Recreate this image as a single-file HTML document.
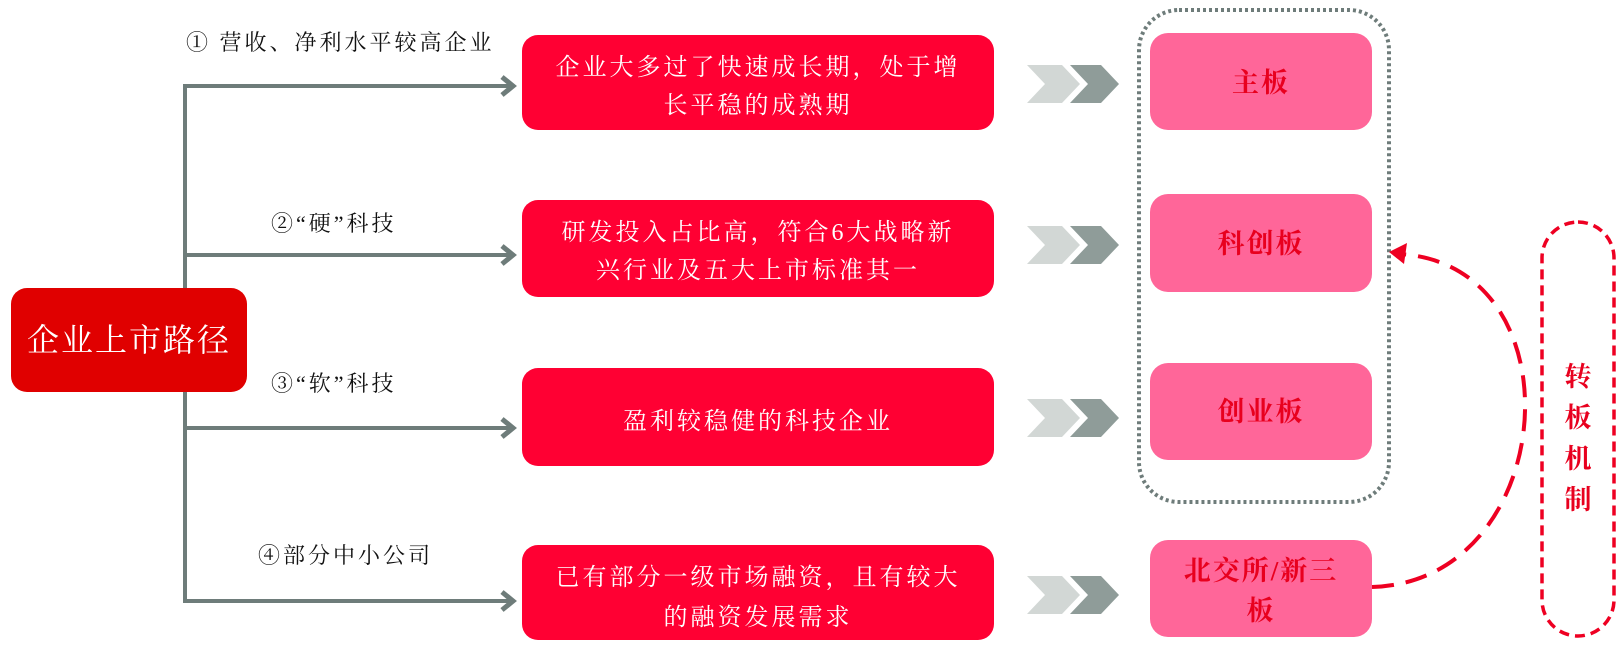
<!DOCTYPE html>
<html><head><meta charset="utf-8"><style>
html,body{margin:0;padding:0;background:#fff;}
svg text{font-family:"Liberation Serif","Noto Serif CJK SC",serif;}
</style></head><body>
<svg width="1622" height="665" viewBox="0 0 1622 665" xmlns="http://www.w3.org/2000/svg">
<!-- connector trunk -->
<g stroke="#6e7c7a" stroke-width="4" fill="none">
<line x1="185" y1="84" x2="185" y2="603"/>
<line x1="183" y1="86" x2="512" y2="86"/>
<line x1="183" y1="255" x2="512" y2="255"/>
<line x1="183" y1="428" x2="512" y2="428"/>
<line x1="183" y1="601" x2="512" y2="601"/>
<g stroke-width="5" stroke-linejoin="miter">
<polyline points="502,77 513,86 502,95"/>
<polyline points="502,246 513,255 502,264"/>
<polyline points="502,419 513,428 502,437"/>
<polyline points="502,592 513,601 502,610"/>
</g>
</g>
<!-- left box -->
<rect x="11" y="288" width="236" height="104" rx="16" fill="#e00000"/>
<text x="129" y="351" font-size="32" fill="#fff" text-anchor="middle" letter-spacing="2">企业上市路径</text>
<!-- labels -->
<g font-size="22" fill="#111">
<text x="186" y="50" letter-spacing="3">① 营收、净利水平较高企业</text>
<text x="271" y="231" letter-spacing="3">②“硬”科技</text>
<text x="271" y="391" letter-spacing="3">③“软”科技</text>
<text x="258" y="563" letter-spacing="3">④部分中小公司</text>
</g>
<!-- red boxes -->
<g fill="#ff0033">
<rect x="522" y="35" width="472" height="95" rx="16"/>
<rect x="522" y="200" width="472" height="97" rx="16"/>
<rect x="522" y="368" width="472" height="98" rx="16"/>
<rect x="522" y="545" width="472" height="95" rx="16"/>
</g>
<g font-size="24" fill="#fff" text-anchor="middle" letter-spacing="3">
<text x="758" y="75">企业大多过了快速成长期，处于增</text>
<text x="758" y="113">长平稳的成熟期</text>
<text x="758" y="240">研发投入占比高，符合6大战略新</text>
<text x="758" y="278">兴行业及五大上市标准其一</text>
<text x="758" y="429">盈利较稳健的科技企业</text>
<text x="758" y="585">已有部分一级市场融资，且有较大</text>
<text x="758" y="625">的融资发展需求</text>
</g>
<!-- chevrons -->
<g>
<g transform="translate(0,84)"><polygon points="1027,-19 1062,-19 1080,0 1062,19 1027,19 1045,0" fill="#d2d7d5"/><polygon points="1070,-19 1101,-19 1119,0 1101,19 1070,19 1088,0" fill="#8f9c99"/></g>
<g transform="translate(0,245)"><polygon points="1027,-19 1062,-19 1080,0 1062,19 1027,19 1045,0" fill="#d2d7d5"/><polygon points="1070,-19 1101,-19 1119,0 1101,19 1070,19 1088,0" fill="#8f9c99"/></g>
<g transform="translate(0,418)"><polygon points="1027,-19 1062,-19 1080,0 1062,19 1027,19 1045,0" fill="#d2d7d5"/><polygon points="1070,-19 1101,-19 1119,0 1101,19 1070,19 1088,0" fill="#8f9c99"/></g>
<g transform="translate(0,595)"><polygon points="1027,-19 1062,-19 1080,0 1062,19 1027,19 1045,0" fill="#d2d7d5"/><polygon points="1070,-19 1101,-19 1119,0 1101,19 1070,19 1088,0" fill="#8f9c99"/></g>
</g>
<!-- dotted container -->
<rect x="1139" y="10" width="250" height="492" rx="40" fill="none" stroke="#6e7c7a" stroke-width="4" stroke-dasharray="3 3"/>
<!-- pink boxes -->
<g fill="#ff6699">
<rect x="1150" y="33" width="222" height="97" rx="18"/>
<rect x="1150" y="194" width="222" height="98" rx="18"/>
<rect x="1150" y="363" width="222" height="97" rx="18"/>
<rect x="1150" y="540" width="222" height="97" rx="18"/>
</g>
<g font-size="27" font-weight="bold" fill="#e8001e" text-anchor="middle" letter-spacing="2">
<text x="1261" y="92">主板</text>
<text x="1261" y="253">科创板</text>
<text x="1261" y="421">创业板</text>
<text x="1261" y="580">北交所/新三</text>
<text x="1261" y="620">板</text>
</g>
<!-- dashed arc -->
<path d="M1372,587 C1560,582 1582,262 1398,254" fill="none" stroke="#ee0022" stroke-width="4" stroke-dasharray="22 12"/>
<polygon points="1389,252 1407,243 1404,264" fill="#ee0022"/>
<!-- pill -->
<rect x="1542" y="222" width="72" height="414" rx="36" fill="none" stroke="#ee0022" stroke-width="3.5" stroke-dasharray="10 6"/>
<g font-size="27" font-weight="bold" fill="#e8001e" text-anchor="middle">
<text x="1578" y="386">转</text>
<text x="1578" y="427">板</text>
<text x="1578" y="468">机</text>
<text x="1578" y="509">制</text>
</g>
</svg>
</body></html>
